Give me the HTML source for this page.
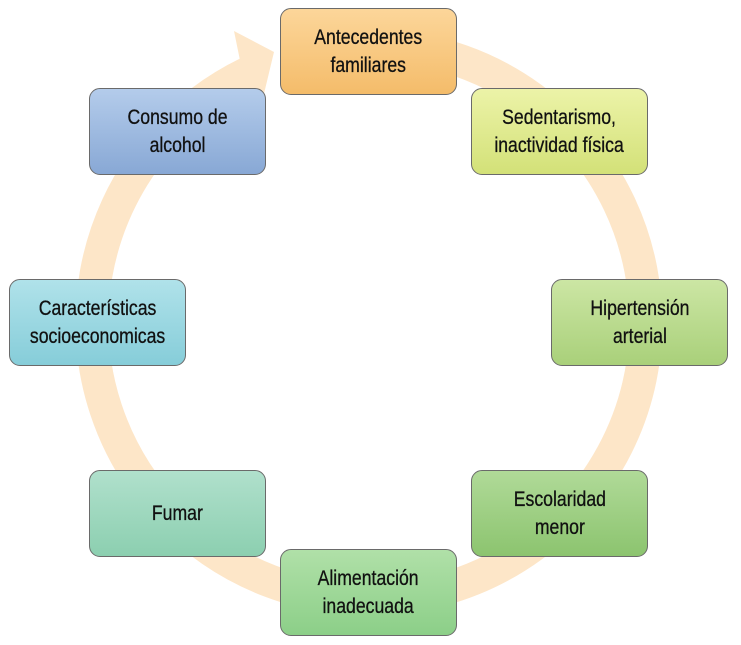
<!DOCTYPE html>
<html><head><meta charset="utf-8"><style>
html,body{margin:0;padding:0;background:#fff;}
#c{position:relative;width:741px;height:645px;overflow:hidden;}
.b{position:absolute;width:177px;height:87px;border:1.5px solid #6a6a6a;border-radius:11px;box-sizing:border-box;display:flex;align-items:center;justify-content:center;text-align:center;font-family:"Liberation Sans",sans-serif;font-size:21px;line-height:28px;color:#111;}
.b span{display:inline-block;transform:scaleX(0.84);white-space:nowrap;-webkit-text-stroke:0.3px #111;}
</style></head><body><div id="c">
<svg width="741" height="645" style="position:absolute;left:0;top:0">
<path d="M 420 50 A 277 277 0 1 1 248 73" fill="none" stroke="#fde6c8" stroke-width="33"/>
<polygon points="234,31 274,52 262,102 244,80" fill="#fde6c8"/>
</svg>
<div class="b" style="left:280px;top:8px;background:linear-gradient(#fcd69a,#f4bc6a)"><span>Antecedentes<br>familiares</span></div>
<div class="b" style="left:471px;top:88px;background:linear-gradient(#ecf3a8,#d3e178)"><span>Sedentarismo,<br>inactividad física</span></div>
<div class="b" style="left:551px;top:279px;background:linear-gradient(#cce6a4,#a9d07a)"><span>Hipertensión<br>arterial</span></div>
<div class="b" style="left:471px;top:470px;background:linear-gradient(#b0da98,#8cc46f)"><span>Escolaridad<br>menor</span></div>
<div class="b" style="left:280px;top:549px;background:linear-gradient(#b0e0a8,#8ccf88)"><span>Alimentación<br>inadecuada</span></div>
<div class="b" style="left:89px;top:470px;background:linear-gradient(#b0e0cc,#8ccfb0)"><span>Fumar</span></div>
<div class="b" style="left:9px;top:279px;background:linear-gradient(#b0e2ea,#86cdd9)"><span>Características<br>socioeconomicas</span></div>
<div class="b" style="left:89px;top:88px;background:linear-gradient(#b4cceb,#88a8d5)"><span>Consumo de<br>alcohol</span></div>
</div></body></html>
